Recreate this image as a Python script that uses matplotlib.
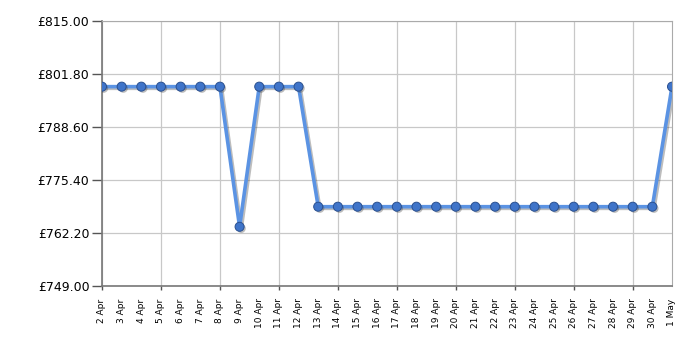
import matplotlib
matplotlib.use("Agg")
import matplotlib.pyplot as plt
import matplotlib.patheffects as pe
from matplotlib.ticker import FixedLocator, FixedFormatter

dates = ["2 Apr", "3 Apr", "4 Apr", "5 Apr", "6 Apr", "7 Apr", "8 Apr", "9 Apr",
         "10 Apr", "11 Apr", "12 Apr", "13 Apr", "14 Apr", "15 Apr", "16 Apr",
         "17 Apr", "18 Apr", "19 Apr", "20 Apr", "21 Apr", "22 Apr", "23 Apr",
         "24 Apr", "25 Apr", "26 Apr", "27 Apr", "28 Apr", "29 Apr", "30 Apr", "1 May"]
prices = [798.65, 798.65, 798.65, 798.65, 798.65, 798.65, 798.65, 763.75,
          798.65, 798.65, 798.65, 768.75, 768.75, 768.75, 768.75,
          768.75, 768.75, 768.75, 768.75, 768.75, 768.75, 768.75,
          768.75, 768.75, 768.75, 768.75, 768.75, 768.75, 768.75, 798.65]
y_ticks = [749.00, 762.20, 775.40, 788.60, 801.80, 815.00]
y_labels = ["£749.00", "£762.20", "£775.40", "£788.60", "£801.80", "£815.00"]

fig = plt.figure(figsize=(7, 3.5), dpi=100)
ax = fig.add_axes([102/700, 1 - 286/350, 570/700, 265/350])

x = list(range(len(dates)))
shadow = [pe.SimpleLineShadow(offset=(1.2, -1.2), shadow_color="#444444", alpha=0.35),
          pe.Normal()]
ax.plot(x, prices, color="#5b93e3", linewidth=2.6, zorder=3, path_effects=shadow)
ax.plot(x, prices, linestyle="none", marker="o", markersize=6.5,
        markerfacecolor="#3f74c9", markeredgecolor="#2a5090", markeredgewidth=0.7,
        zorder=4,
        path_effects=[pe.SimplePatchShadow(offset=(1.2, -1.2), shadow_rgbFace="#444444", alpha=0.35),
                      pe.Normal()])

ax.set_xlim(0, len(dates) - 1)
ax.set_ylim(y_ticks[0], y_ticks[-1])

major = x[::3]
minor = [i for i in x if i % 3 != 0]
ax.xaxis.set_major_locator(FixedLocator(major))
ax.xaxis.set_major_formatter(FixedFormatter([dates[i] for i in major]))
ax.xaxis.set_minor_locator(FixedLocator(minor))
ax.xaxis.set_minor_formatter(FixedFormatter([dates[i] for i in minor]))
ax.tick_params(axis="x", which="major", length=3, width=1, color="#555555",
               labelsize=6.5, labelrotation=90, pad=6)
ax.tick_params(axis="x", which="minor", length=0, labelsize=6.5, labelrotation=90, pad=9)

ax.set_yticks(y_ticks)
ax.set_yticklabels(y_labels)
ax.tick_params(axis="y", length=7, width=1, color="#555555", labelsize=9, pad=2)

ax.grid(True, which="major", color="#c8c8c8", linewidth=0.9)
ax.set_axisbelow(True)
for side in ["top", "right"]:
    ax.spines[side].set_color("#aaaaaa")
for side in ["left", "bottom"]:
    ax.spines[side].set_color("#777777")
    ax.spines[side].set_linewidth(1.2)

fig.savefig("out.png", dpi=100)
